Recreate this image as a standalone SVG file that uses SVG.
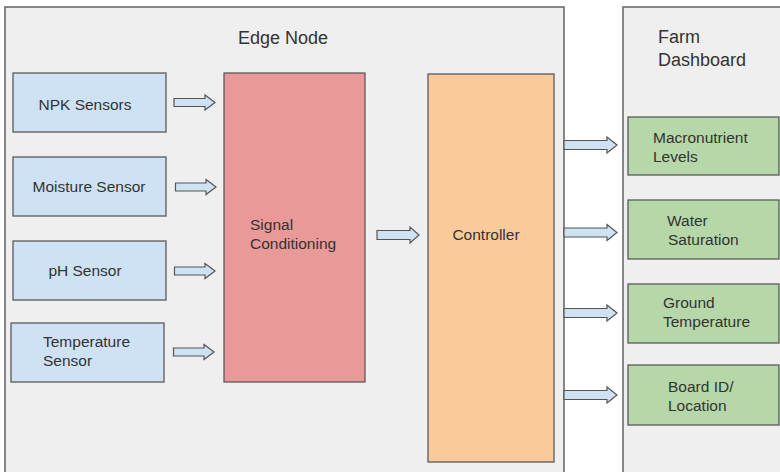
<svg xmlns="http://www.w3.org/2000/svg" width="780" height="472" viewBox="0 0 780 472">
<defs>
<style>
text{font-family:"Liberation Sans",Arial,sans-serif;fill:#333;}
.t{font-size:15.5px;}
.h{font-size:18px;}
.frame{fill:#efefef;stroke:#6b6b6b;stroke-width:1.6;}
.box{stroke:#5a5a5a;stroke-width:1.3;}
.blue{fill:#cfe2f3;}
.red{fill:#ea9999;}
.orange{fill:#f9cb9c;}
.green{fill:#b6d7a8;}
.arr{fill:#cfe2f3;stroke:#555;stroke-width:1.2;stroke-linejoin:miter;}
</style>
</defs>
<rect width="780" height="472" fill="#ffffff"/>
<g id="edge-node">
<rect class="frame" x="5" y="7" width="559" height="475"/>
<text class="h" x="283" y="44" text-anchor="middle">Edge Node</text>
</g>
<g id="farm-dashboard">
<rect class="frame" x="623" y="7" width="170" height="475"/>
<text class="h" x="658" y="43">Farm</text>
<text class="h" x="658" y="66">Dashboard</text>
</g>
<g id="npk">
<rect class="box blue" x="13" y="73" width="153" height="59"/>
<text class="t" x="85" y="110" text-anchor="middle">NPK Sensors</text>
</g>
<g id="moisture">
<rect class="box blue" x="13" y="157" width="153" height="59"/>
<text class="t" x="89" y="192" text-anchor="middle">Moisture Sensor</text>
</g>
<g id="ph">
<rect class="box blue" x="13" y="241" width="153" height="59"/>
<text class="t" x="85" y="276" text-anchor="middle">pH Sensor</text>
</g>
<g id="temperature">
<rect class="box blue" x="11" y="323" width="153" height="59"/>
<text class="t" x="43" y="347">Temperature</text>
<text class="t" x="43" y="366">Sensor</text>
</g>
<g id="signal">
<rect class="box red" x="224" y="73" width="141" height="309"/>
<text class="t" x="250" y="230">Signal</text>
<text class="t" x="250" y="249">Conditioning</text>
</g>
<g id="controller">
<rect class="box orange" x="428" y="74" width="126" height="388"/>
<text class="t" x="486" y="240" text-anchor="middle">Controller</text>
</g>
<g id="macro">
<rect class="box green" x="628" y="117" width="151" height="58"/>
<text class="t" x="653" y="143">Macronutrient</text>
<text class="t" x="653" y="162">Levels</text>
</g>
<g id="water">
<rect class="box green" x="628" y="200" width="151" height="59"/>
<text class="t" x="667" y="226">Water</text>
<text class="t" x="668" y="245">Saturation</text>
</g>
<g id="ground">
<rect class="box green" x="628" y="284" width="151" height="59"/>
<text class="t" x="663" y="308">Ground</text>
<text class="t" x="663" y="327">Temperature</text>
</g>
<g id="board">
<rect class="box green" x="628" y="365" width="151" height="60"/>
<text class="t" x="668" y="392">Board ID/</text>
<text class="t" x="668" y="411">Location</text>
</g>
<g id="connectors">
<path class="arr" d="M174,98.5 H205 V95 L215,102.5 L205,110 V106.5 H174 Z"/>
<path class="arr" d="M175.5,183 H206 V179.5 L216,187 L206,194.5 V191 H175.5 Z"/>
<path class="arr" d="M174.5,267 H205 V263.5 L215,271 L205,278.5 V275 H174.5 Z"/>
<path class="arr" d="M173.5,348 H204 V344.5 L214,352 L204,359.5 V356 H173.5 Z"/>
<path class="arr" d="M377,230.5 H410 V227 L419,235 L410,243 V239.5 H377 Z"/>
<path class="arr" d="M564,140.5 H607 V137 L617,145 L607,153 V149.5 H564 Z"/>
<path class="arr" d="M564,228 H607 V224.5 L617,232.5 L607,240.5 V237 H564 Z"/>
<path class="arr" d="M564,308.5 H607 V305 L617,313 L607,321 V317.5 H564 Z"/>
<path class="arr" d="M564,390.5 H607 V387 L617,395 L607,403 V399.5 H564 Z"/>
</g>
</svg>
